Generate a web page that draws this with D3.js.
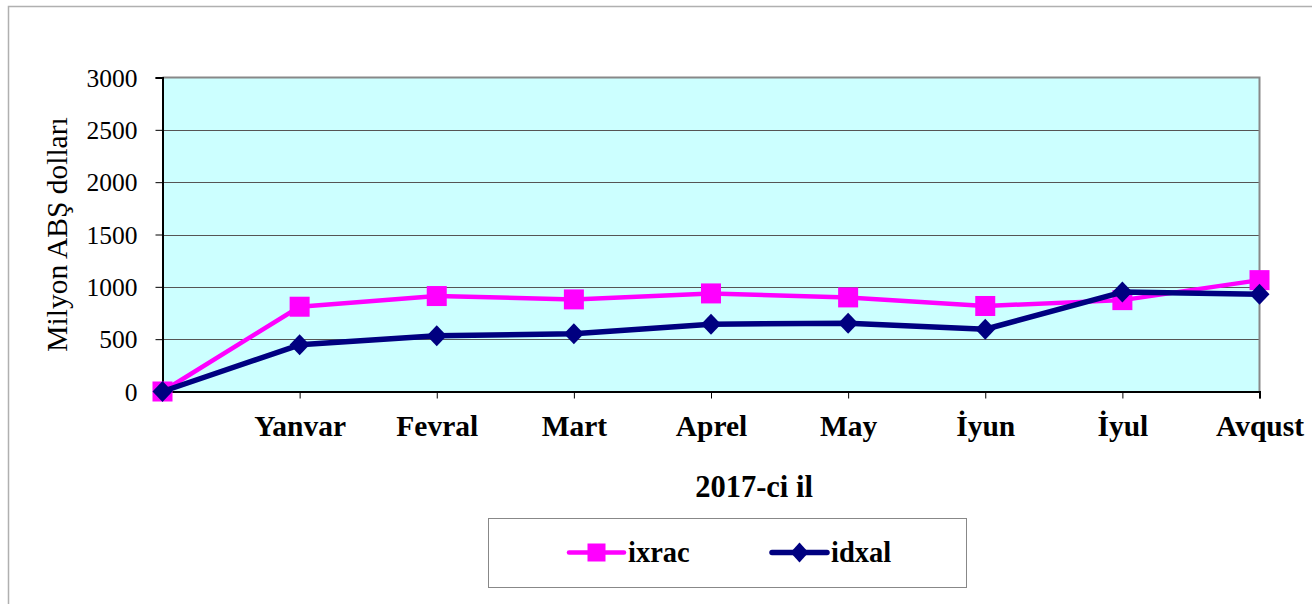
<!DOCTYPE html>
<html>
<head>
<meta charset="utf-8">
<script src="https://cdn.jsdelivr.net/npm/d3@7/dist/d3.min.js"></script>
</head>
<body style="margin:0">
<svg id="chart" width="1312" height="604"></svg>
<script>
// ---- data ----
const categories = ["", "Yanvar", "Fevral", "Mart", "Aprel", "May", "İyun", "İyul", "Avqust"];
const ixrac = [0, 810, 912, 880, 937, 899, 817, 873, 1064];
const idxal = [0, 446, 532, 551, 643, 652, 595, 950, 928];
const yTicks = [0, 500, 1000, 1500, 2000, 2500, 3000];
const seriesNames = ["ixrac", "idxal"];
const seriesColors = ["#FF00FF", "#000080"];

const FONT = "Liberation Serif";
const svg = d3.select("#chart");

// outer chart border
svg.append("rect").attr("x", 8.5).attr("y", 6.5).attr("width", 1340).attr("height", 640)
  .attr("fill", "#fff").attr("stroke", "#b0b0b0").attr("stroke-width", 1.5);

const plot = { left: 162.5, top: 77.5, right: 1259.5, bottom: 391.5 };

const x = d3.scalePoint().domain(d3.range(categories.length)).range([plot.left, plot.right]).padding(0);
const y = d3.scaleLinear().domain([0, 3000]).range([plot.bottom, plot.top]);

// plot background
svg.append("rect").attr("x", plot.left).attr("y", plot.top)
  .attr("width", plot.right - plot.left).attr("height", plot.bottom - plot.top)
  .attr("fill", "#CCFFFF");

// gridlines
svg.append("g").selectAll("line").data(yTicks.filter(d => d > 0 && d < 3000)).join("line")
  .attr("x1", plot.left).attr("x2", plot.right)
  .attr("y1", d => Math.round(y(d)) + 0.5).attr("y2", d => Math.round(y(d)) + 0.5)
  .attr("stroke", "#555").attr("stroke-width", 1);

// top & right border
svg.append("path")
  .attr("d", `M${plot.left},${plot.top}H${plot.right}V${plot.bottom}`)
  .attr("fill", "none").attr("stroke", "#888").attr("stroke-width", 2);

// y axis
const yAxis = d3.axisLeft(y).tickValues(yTicks).tickSize(7).tickPadding(18).tickFormat(d3.format("d"));
const gy = svg.append("g").attr("transform", `translate(${plot.left},0)`).call(yAxis);
gy.select(".domain").attr("stroke", "#000").attr("stroke-width", 2);
gy.selectAll(".tick line").attr("stroke", "#000");
gy.selectAll(".tick text").style("font-family", FONT).style("font-size", "25.5px").attr("fill", "#000").attr("dy", "0.34em");

// x axis
const xAxis = d3.axisBottom(x).tickSize(7).tickPadding(17).tickFormat(i => categories[i]);
const gx = svg.append("g").attr("transform", `translate(0,${plot.bottom})`).call(xAxis);
gx.select(".domain").attr("stroke", "#000").attr("stroke-width", 2);
gx.selectAll(".tick line").attr("stroke", "#000");
gx.selectAll(".tick text").style("font-family", FONT).style("font-size", "29.5px").style("font-weight", "bold")
  .attr("fill", "#000").attr("dy", "0.71em");

// axis titles
svg.append("text").attr("transform", `translate(67,${(plot.top + plot.bottom) / 2}) rotate(-90)`)
  .attr("text-anchor", "middle").style("font-family", FONT).style("font-size", "29.5px").text("Milyon ABŞ dolları");
svg.append("text").attr("x", 754).attr("y", 497).attr("text-anchor", "middle")
  .style("font-family", FONT).style("font-size", "30.5px").style("font-weight", "bold").text("2017-ci il");

// series
const line = d3.line().x((d, i) => x(i)).y(d => y(d));
const seriesData = [ixrac, idxal];
const widths = [4.5, 5.5];
const drawMarker = (g, s, cx, cy, c) => {
  if (s === 0) {
    g.append("rect").attr("x", cx - 10).attr("y", cy - 10).attr("width", 20).attr("height", 20).attr("fill", c);
  } else {
    g.append("path").attr("d", `M${cx},${cy - 10.5}L${cx + 10},${cy}L${cx},${cy + 10.5}L${cx - 10},${cy}Z`).attr("fill", c);
  }
};
seriesData.forEach((vals, s) => {
  const g = svg.append("g");
  g.append("path").datum(vals).attr("d", line).attr("fill", "none")
    .attr("stroke", seriesColors[s]).attr("stroke-width", widths[s]).attr("stroke-linejoin", "round");
  vals.forEach((v, i) => drawMarker(g, s, x(i), y(v), seriesColors[s]));
});

// legend
svg.append("rect").attr("x", 488.5).attr("y", 518.5).attr("width", 478).attr("height", 69)
  .attr("fill", "#fff").attr("stroke", "#888").attr("stroke-width", 1);
const legendX = [569, 772];
seriesNames.forEach((n, s) => {
  const g = svg.append("g");
  const cy = 552.5;
  g.append("line").attr("x1", legendX[s]).attr("x2", legendX[s] + 55).attr("y1", cy).attr("y2", cy)
    .attr("stroke", seriesColors[s]).attr("stroke-width", widths[s]).attr("stroke-linecap", "round");
  const cx = legendX[s] + 27.5;
  if (s === 0) {
    g.append("rect").attr("x", cx - 9).attr("y", cy - 9).attr("width", 18).attr("height", 18).attr("fill", seriesColors[s]);
  } else {
    g.append("path").attr("d", `M${cx},${cy - 10}L${cx + 9},${cy}L${cx},${cy + 10}L${cx - 9},${cy}Z`).attr("fill", seriesColors[s]);
  }
  g.append("text").attr("x", legendX[s] + 59).attr("y", 562)
    .style("font-family", FONT).style("font-size", "28.5px").style("font-weight", "bold").text(n);
});
</script>
</body>
</html>
